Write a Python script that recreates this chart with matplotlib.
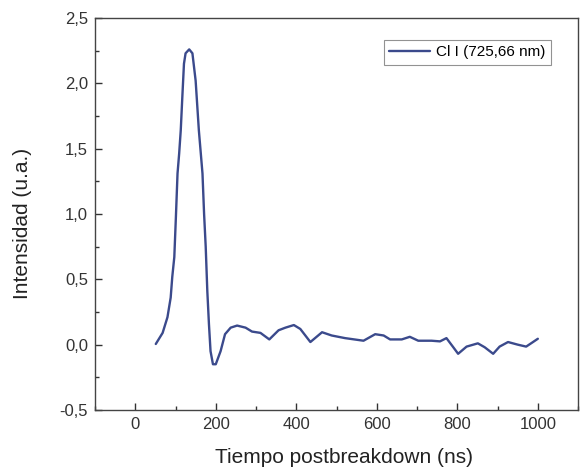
import matplotlib
matplotlib.use("Agg")
import matplotlib.pyplot as plt
from matplotlib.ticker import MultipleLocator, FuncFormatter

plt.rcParams['font.family'] = ['Liberation Sans', 'DejaVu Sans']

tiempo = [51, 68, 80, 88, 92, 97, 101, 105, 109, 113, 117, 121, 125, 134, 142, 150,
          158, 167, 171, 175, 179, 183, 187, 193, 200, 212, 223, 237, 253, 274, 290,
          311, 333, 356, 373, 394, 410, 435, 464, 488, 521, 567, 596, 617, 633, 662,
          682, 703, 736, 757, 773, 790, 802, 823, 851, 868, 889, 905, 926, 950, 971,
          988, 1000]
intensidad = [0.005, 0.09, 0.21, 0.36, 0.52, 0.67, 0.98, 1.31, 1.46, 1.64, 1.90, 2.15,
              2.23, 2.26, 2.23, 2.02, 1.64, 1.31, 1.00, 0.75, 0.41, 0.16, -0.05, -0.15,
              -0.15, -0.05, 0.08, 0.13, 0.146, 0.13, 0.10, 0.09, 0.04, 0.11, 0.13, 0.15,
              0.12, 0.02, 0.095, 0.07, 0.05, 0.03, 0.08, 0.07, 0.04, 0.04, 0.06, 0.03,
              0.03, 0.025, 0.05, -0.02, -0.07, -0.015, 0.01, -0.02, -0.07, -0.015,
              0.02, 0.0, -0.015, 0.02, 0.045]
serie = "Cl I (725,66 nm)"

fig = plt.figure(figsize=(5.81, 4.68), dpi=100)
ax = fig.add_axes([0.1635, 0.124, 0.8315, 0.8375])
ax.plot(tiempo, intensidad, color='#3b4a8c', lw=1.7, label=serie,
        solid_joinstyle='round', solid_capstyle='round')
ax.set_xlim(-100, 1100)
ax.set_ylim(-0.5, 2.5)
ax.xaxis.set_major_locator(MultipleLocator(200))
ax.xaxis.set_minor_locator(MultipleLocator(100))
ax.yaxis.set_major_locator(MultipleLocator(0.5))
ax.yaxis.set_minor_locator(MultipleLocator(0.25))
ax.yaxis.set_major_formatter(FuncFormatter(lambda v, p: f"{v:.1f}".replace('.', ',')))
ax.tick_params(which='both', direction='in', top=False, right=False, labelsize=12,
               colors='#333333')
ax.tick_params(which='major', length=5, width=1, pad=5)
ax.tick_params(which='minor', length=3, width=1)
for s in ax.spines.values():
    s.set_color('#444444')
    s.set_linewidth(1)
ax.set_xlabel("Tiempo postbreakdown (ns)", fontsize=15, color='#222222')
ax.set_ylabel("Intensidad (u.a.)", fontsize=15, color='#222222')
ax.xaxis.set_label_coords(0.515, -0.096)
ax.yaxis.set_label_coords(-0.13, 0.476)
leg = ax.legend(loc='upper right', bbox_to_anchor=(0.944, 0.944), borderaxespad=0,
                fontsize=11, frameon=True, fancybox=False, handlelength=2.7,
                borderpad=0.35, handletextpad=0.4)
leg.get_frame().set_edgecolor('#777777')
leg.get_frame().set_linewidth(0.8)
fig.savefig("out.png", dpi=100)
